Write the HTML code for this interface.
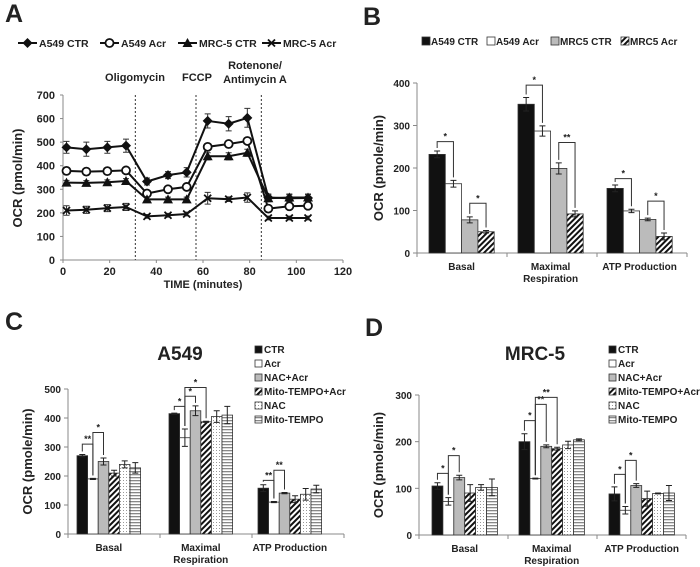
<!DOCTYPE html>
<html><head><meta charset="utf-8"><style>
body{margin:0;background:#fff}
svg{display:block;font-family:"Liberation Sans",Arial,sans-serif;font-weight:bold;fill:#222}
</style></head><body>
<svg id="fig" width="700" height="567" viewBox="0 0 700 567" xmlns="http://www.w3.org/2000/svg">
<defs>
<pattern id="hatch" patternUnits="userSpaceOnUse" width="4" height="4" patternTransform="rotate(45)"><rect width="4" height="4" fill="#fff"/><rect width="2" height="4" fill="#111"/></pattern>
<pattern id="dots" patternUnits="userSpaceOnUse" width="3" height="3"><rect width="3" height="3" fill="#fff"/><rect width="1" height="1" fill="#999"/></pattern>
<pattern id="hstripe" patternUnits="userSpaceOnUse" width="4" height="3"><rect width="4" height="3" fill="#fff"/><rect width="4" height="1.3" fill="#888"/></pattern>
</defs>
</svg>
<script>
// ---------- Panel A data ----------
const timesA = [1.5,10,19,27,36,45,53,62,71,79,88,97,105];
const seriesNamesA = ["A549 CTR","A549 Acr","MRC-5 CTR","MRC-5 Acr"];
const a549Ctr = [478,470,478,485,333,360,372,590,578,603,265,262,263];
const a549Acr = [378,375,377,380,282,300,310,480,492,505,218,228,230];
const mrcCtr  = [328,327,330,335,257,257,257,440,440,455,262,265,265];
const mrcAcr  = [210,213,220,225,185,190,195,262,258,265,178,178,178];
const errA549Ctr = [25,30,25,28,15,15,20,30,30,40,15,15,15];
const errA549Acr = [10,10,10,10,12,10,10,12,10,10,10,10,10];
const errMrcCtr  = [10,10,10,10,10,10,10,15,15,15,15,15,15];
const errMrcAcr  = [20,15,15,15,8,8,8,25,10,20,8,8,8];
const injTimes = [31,57,85];
const ticksYA = [0,100,200,300,400,500,600,700];
const ticksXA = [0,20,40,60,80,100,120];

// ---------- Panel B data ----------
const catsB = ["Basal","Maximal|Respiration","ATP Production"];
const namesB = ["A549 CTR","A549 Acr","MRC5 CTR","MRC5 Acr"];
const a549CtrB = [232,350,152];
const a549AcrB = [163,287,99];
const mrcCtrB = [78,199,79];
const mrcAcrB = [50,92,39];
const errB = [[8,16,8],[8,12,4],[7,13,3],[3,7,8]];
const ticksB = [0,100,200,300,400];
const sigB = [[0,0,1,262,"*"],[0,2,3,117,"*"],[1,0,1,395,"*"],[1,2,3,260,"**"],[2,0,1,175,"*"],[2,2,3,122,"*"]];

// ---------- Panel C data ----------
const namesCD = ["CTR","Acr","NAC+Acr","Mito-TEMPO+Acr","NAC","Mito-TEMPO"];
const basalC = [270,190,250,210,240,228];
const maxC = [415,332,425,387,405,410];
const atpC = [158,110,141,120,137,155];
const errC = [[4,2,12,10,12,18],[2,30,17,2,20,30],[12,2,2,12,20,13]];
const ticksC = [0,100,200,300,400,500];
const sigC = [[0,0,1,310,"**"],[0,1,2,350,"*"],[1,0,1,440,"*"],[1,1,2,475,"*"],[1,1,3,505,"*"],[2,0,1,185,"**"],[2,1,2,220,"**"]];

// ---------- Panel D data ----------
const basalD = [105,72,123,90,102,102];
const maxD = [200,121,190,185,193,204];
const atpD = [88,53,106,78,89,90];
const errD = [[7,8,5,18,6,18],[17,1,3,3,8,2],[15,8,4,16,1,16]];
const ticksD = [0,100,200,300];
const sigD = [[0,0,1,132,"*"],[0,1,2,170,"*"],[1,0,1,245,"*"],[1,1,2,280,"**"],[1,1,3,295,"**"],[2,0,1,130,"*"],[2,1,2,160,"*"]];

const svg = document.getElementById('fig');
const NS = "http://www.w3.org/2000/svg";
function el(tag, attrs, parent){const e=document.createElementNS(NS,tag);for(const k in attrs)e.setAttribute(k,attrs[k]);(parent||svg).appendChild(e);return e;}
function txt(s,x,y,size,anchor,parent){const t=el('text',{x:x,y:y,'font-size':size,'text-anchor':anchor||'middle'},parent);t.textContent=s;return t;}

// panel letters
[["A",5,22],["B",363,25],["C",5,330],["D",365,336]].forEach(p=>{
  const t=txt(p[0],p[1],p[2],25,'start');
  
  
});

// ================= Panel A =================
(function(){
  const g=el('g',{});
  
  
  const x0=63,x1=343,yTop=95,yBot=260;
  const xs=v=>x0+(x1-x0)*v/120;
  const ys=v=>yBot-(yBot-yTop)*v/700;
  el('line',{x1:x0,y1:yTop,x2:x0,y2:yBot,stroke:'#888'},g);
  el('line',{x1:x0,y1:yBot,x2:x1,y2:yBot,stroke:'#888'},g);
  ticksYA.forEach(v=>{el('line',{x1:x0-3,y1:ys(v),x2:x0,y2:ys(v),stroke:'#888'},g);const t=txt(v,x0-8,ys(v)+4,11,'end',g);});
  ticksXA.forEach(v=>{el('line',{x1:xs(v),y1:yBot,x2:xs(v),y2:yBot+3,stroke:'#888'},g);const t=txt(v,xs(v),yBot+15,11,'middle',g);});
  injTimes.forEach(v=>{const l=el('line',{x1:xs(v),y1:yTop,x2:xs(v),y2:yBot,stroke:'#333','stroke-dasharray':'2,2'},g);});
  let t=txt("Oligomycin",135,81,11,'middle',g);
  t=txt("FCCP",197,81,11,'middle',g);
  t=txt("Rotenone/",255,69,11,'middle',g);
  t=txt("Antimycin A",255,83,11,'middle',g);
  t=txt("OCR (pmol/min)",0,0,13,'middle',g);t.setAttribute('transform','translate(22,178) rotate(-90)');
  t=txt("TIME (minutes)",203,288,11,'middle',g);
  const data=[a549Ctr,a549Acr,mrcCtr,mrcAcr], errs=[errA549Ctr,errA549Acr,errMrcCtr,errMrcAcr];
  const marker=(k,x,y,p)=>{
    if(k===0)return el('path',{d:`M${x} ${y-5}L${x+5} ${y}L${x} ${y+5}L${x-5} ${y}Z`,fill:'#111'},p);
    if(k===1)return el('circle',{cx:x,cy:y,r:4,fill:'#fff',stroke:'#111','stroke-width':1.8},p);
    if(k===2)return el('path',{d:`M${x} ${y-5}L${x+5} ${y+4}L${x-5} ${y+4}Z`,fill:'#111'},p);
    return el('path',{d:`M${x-3.5} ${y-3.5}L${x+3.5} ${y+3.5}M${x+3.5} ${y-3.5}L${x-3.5} ${y+3.5}`,stroke:'#111','stroke-width':1.8},p);
  };
  data.forEach((arr,k)=>{
    const sg=el('g',{},g);
    
    
    arr.forEach((v,i)=>{const x=xs(timesA[i]);el('path',{d:`M${x} ${ys(v-errs[k][i])}V${ys(v+errs[k][i])}M${x-3} ${ys(v-errs[k][i])}h6M${x-3} ${ys(v+errs[k][i])}h6`,stroke:'#333','stroke-width':1},sg);});
    el('polyline',{points:arr.map((v,i)=>xs(timesA[i])+','+ys(v)).join(' '),fill:'none',stroke:'#111','stroke-width':2},sg);
    arr.forEach((v,i)=>{const m=marker(k,xs(timesA[i]),ys(v),sg);});
  });
  const lx=[18,100,178,262];
  seriesNamesA.forEach((n,k)=>{
    const lg=el('g',{},g);
    
    
    el('line',{x1:lx[k],y1:43,x2:lx[k]+19,y2:43,stroke:'#111','stroke-width':2},lg);
    marker(k,lx[k]+9.5,43,lg);
    txt(n,lx[k]+21,47,10.5,'start',lg);
  });
})();

// ================= Bar panels =================
function barPanel(cfg){
  const g=el('g',{});
  
  
  const ys=v=>cfg.yBot-(cfg.yBot-cfg.yTop)*v/cfg.max;
  el('line',{x1:cfg.x0,y1:cfg.yTop,x2:cfg.x0,y2:cfg.yBot,stroke:'#888'},g);
  el('line',{x1:cfg.x0,y1:cfg.yBot,x2:cfg.x0+cfg.band*3,y2:cfg.yBot,stroke:'#888'},g);
  cfg.ticks.forEach(v=>{el('line',{x1:cfg.x0-4,y1:ys(v),x2:cfg.x0,y2:ys(v),stroke:'#888'},g);const t=txt(v,cfg.x0-7,ys(v)+4,10,'end',g);});
  for(let c=0;c<=3;c++)el('line',{x1:cfg.x0+c*cfg.band,y1:cfg.yBot,x2:cfg.x0+c*cfg.band,y2:cfg.yBot+4,stroke:'#888'},g);
  const bx=(c,s)=>cfg.x0+c*cfg.band+cfg.inset[c]+s*cfg.bw;
  cfg.cats.forEach((cn,c)=>{
    const parts=cn.split('|');
    parts.forEach((p,j)=>{const t=txt(p,cfg.x0+c*cfg.band+cfg.inset[c]+cfg.bw*cfg.series.length/2,cfg.yBot+17+j*12,10,'middle',g);});
    cfg.series.forEach((arr,s)=>{
      const v=arr[c],e=cfg.err[c][s];
      const r=el('rect',{x:bx(c,s),y:ys(v),width:cfg.bw,height:cfg.yBot-ys(v),fill:cfg.fills[s],stroke:'#333','stroke-width':0.8},g);
      
      
      const cx=bx(c,s)+cfg.bw/2;
      el('path',{d:`M${cx} ${ys(v-e)}V${ys(v+e)}M${cx-3} ${ys(v-e)}h6M${cx-3} ${ys(v+e)}h6`,stroke:'#222','stroke-width':1},g);
    });
  });
  cfg.sig.forEach(sg=>{
    const [c,a,b,lev,lab]=sg;
    const xa=bx(c,a)+cfg.bw/2, xb=bx(c,b)+cfg.bw/2;
    const ya=ys(cfg.series[a][c]+cfg.err[c][a])-3, yb=ys(cfg.series[b][c]+cfg.err[c][b])-3, yl=ys(lev);
    const p=el('path',{d:`M${xa} ${ya}V${yl}H${xb}V${yb}`,fill:'none',stroke:'#333','stroke-width':1},g);
    
    
    txt(lab,(xa+xb)/2,yl-2,9,'middle',g);
  });
  const t=txt("OCR (pmole/min)",0,0,13,'middle',g);
  t.setAttribute('transform',`translate(${cfg.ylx},${(cfg.yTop+cfg.yBot)/2}) rotate(-90)`);
  
  
  return {g,ys};
}

const fillsB=['#111','#fff','#bbb','url(#hatch)'];
barPanel({name:'panel-b-bar-chart',x0:417,yTop:83,yBot:253,max:400,band:90,inset:[12,11,10],bw:16.3,ticks:ticksB,cats:catsB,series:[a549CtrB,a549AcrB,mrcCtrB,mrcAcrB],err:[0,1,2].map(c=>errB.map(s=>s[c])),fills:fillsB,names:namesB,sig:sigB,ylx:383});
// legend B
[[422,"A549 CTR"],[487,"A549 Acr"],[551,"MRC5 CTR"],[621,"MRC5 Acr"]].forEach((l,k)=>{
  const lg=el('g',{});
  
  
  el('rect',{x:l[0],y:37,width:8,height:8,fill:fillsB[k],stroke:'#333','stroke-width':0.8},lg);
  txt(l[1],l[0]+9,45,10,'start',lg);
});

const fillsCD=['#111','#fff','#bbb','url(#hatch)','url(#dots)','url(#hstripe)'];
const catsCD=["Basal","Maximal|Respiration","ATP Production"];
barPanel({name:'panel-c-bar-chart',x0:68,yTop:389,yBot:534,max:500,band:92,inset:[9,9,6],bw:10.6,ticks:ticksC,cats:catsCD,series:[0,1,2,3,4,5].map(s=>[basalC[s],maxC[s],atpC[s]]),err:errC,fills:fillsCD,names:namesCD,sig:sigC,ylx:32});
barPanel({name:'panel-d-bar-chart',x0:419,yTop:395,yBot:535,max:300,band:89,inset:[13,11,12],bw:10.9,ticks:ticksD,cats:catsCD,series:[0,1,2,3,4,5].map(s=>[basalD[s],maxD[s],atpD[s]]),err:errD,fills:fillsCD,names:namesCD,sig:sigD,ylx:383});

let tt=txt("A549",180,360,19,'middle');
tt=txt("MRC-5",535,360,19,'middle');
[255,609].forEach(lx=>{
  namesCD.forEach((n,k)=>{
    const lg=el('g',{});
    
    
    const y=350+k*14;
    el('rect',{x:lx,y:y-4,width:7,height:7,fill:fillsCD[k],stroke:'#333','stroke-width':0.8},lg);
    txt(n,lx+9,y+3,10,'start',lg);
  });
});
</script>
</body></html>
